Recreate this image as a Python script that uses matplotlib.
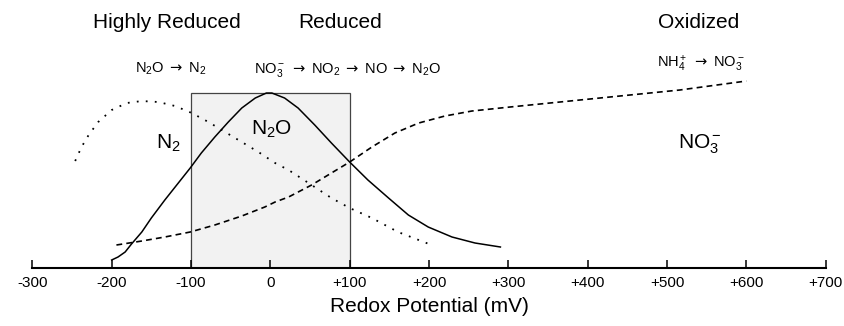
import matplotlib
matplotlib.use('Agg')
import matplotlib.pyplot as plt
from matplotlib.patches import Rectangle

plt.rcParams['font.family'] = ['Liberation Sans', 'DejaVu Sans']
plt.rcParams['mathtext.fontset'] = 'custom'
plt.rcParams['mathtext.rm'] = 'Liberation Sans'
plt.rcParams['mathtext.it'] = 'Liberation Sans'
plt.rcParams['mathtext.sf'] = 'DejaVu Sans'

# N2O curve (solid)
n2o_x = [-200, -192, -183, -175, -162, -150, -133, -116, -101, -87, -70, -53,
         -36, -19, -5, 2, 18, 35, 56, 77, 100, 123, 149, 174, 199, 229, 258, 290]
n2o_y = [8, 11, 16, 24, 36, 50, 68, 85, 100, 115, 131, 146,
         160, 170, 175, 175, 170, 160, 143, 125, 106, 88, 70, 53, 41, 31, 25, 21]

# N2 curve (dotted)
n2_x = [-246, -238, -229, -217, -200, -181, -162, -141, -120, -99, -78, -57,
        -36, -15, 6, 23, 52, 77, 100, 128, 161, 200]
n2_y = [107, 121, 133, 146, 158, 165, 167, 166, 162, 155, 146, 136,
        126, 116, 105, 98, 83, 70, 60, 50, 36, 24]

# NO3- curve (dashed)
no3_x = [-194, -162, -133, -101, -70, -36, -7, 6, 23, 52, 77, 100, 128, 157,
         187, 220, 254, 302, 390, 516, 600]
no3_y = [23, 27, 31, 36, 43, 52, 61, 66, 71, 83, 95, 106, 121, 135,
         145, 152, 157, 161, 168, 178, 187]

ticks = [-300, -200, -100, 0, 100, 200, 300, 400, 500, 600, 700]
tick_labels = ['-300', '-200', '-100', '0', '+100', '+200', '+300',
               '+400', '+500', '+600', '+700']

fig = plt.figure(figsize=(8.44, 3.26), dpi=100)
ax = fig.add_axes([0.0383, 0.1779, 0.940, 0.822])
ax.set_xlim(-300, 700)
ax.set_ylim(0, 268)

ax.add_patch(Rectangle((-100, 0), 200, 175, facecolor='#f2f2f2',
                       edgecolor='#444444', lw=0.9, zorder=1))

ax.plot(n2o_x, n2o_y, color='black', lw=1.1, zorder=3)
ax.plot(n2_x, n2_y, color='black', lw=1.3, ls=(0, (1, 4)), zorder=3)
ax.plot(no3_x, no3_y, color='black', lw=1.2, ls=(0, (3.5, 2.5)), zorder=3)

for s in ['top', 'right', 'left']:
    ax.spines[s].set_visible(False)
ax.spines['bottom'].set_linewidth(1.5)
ax.set_yticks([])
ax.set_xticks(ticks)
ax.set_xticklabels(tick_labels, fontsize=11)
ax.tick_params(axis='x', direction='in', length=5.5, width=1.1, pad=6)
ax.set_xlabel('Redox Potential (mV)', fontsize=15, labelpad=5)

# zone headings
ax.text(-130, 240, 'Highly Reduced', fontsize=15, ha='center', va='baseline')
ax.text(88, 240, 'Reduced', fontsize=15, ha='center', va='baseline')
ax.text(540, 240, 'Oxidized', fontsize=15, ha='center', va='baseline')

# reactions
arrow = r' $\mathsf{\rightarrow}$ '
ax.text(-126, 195, r'$\mathregular{N_2O}$' + arrow + r'$\mathregular{N_2}$',
        fontsize=10.5, ha='center', va='baseline')
ax.text(97, 195, r'$\mathregular{NO_3^-}$' + arrow + r'$\mathregular{NO_2}$' + arrow
        + 'NO' + arrow + r'$\mathregular{N_2O}$',
        fontsize=10.5, ha='center', va='baseline')
ax.text(543, 200, r'$\mathregular{NH_4^+}$' + arrow + r'$\mathregular{NO_3^-}$',
        fontsize=10.5, ha='center', va='baseline')

# species labels
ax.text(-129, 119, r'$\mathregular{N_2}$', fontsize=15, ha='center', va='baseline')
ax.text(2, 133, r'$\mathregular{N_2O}$', fontsize=15, ha='center', va='baseline')
ax.text(541, 120, r'$\mathregular{NO_3^-}$', fontsize=15, ha='center', va='baseline')

fig.savefig('out.png', dpi=100)
